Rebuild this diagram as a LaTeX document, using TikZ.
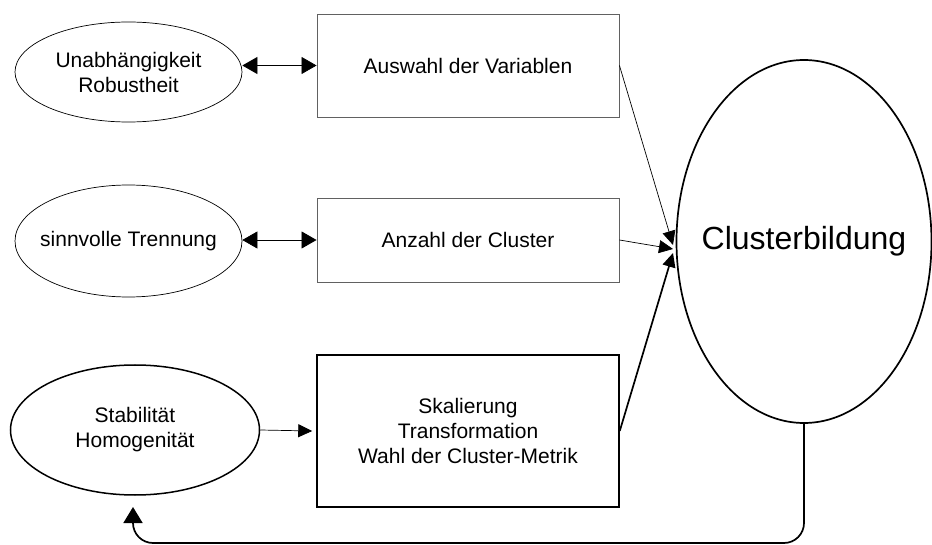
\documentclass[tikz,border=0pt]{standalone}
\usepackage{fontspec}
\setmainfont{Liberation Sans}
\usetikzlibrary{shapes.geometric,arrows.meta,calc}
\begin{document}
\begin{tikzpicture}[x=1pt,y=-1pt,
  >={Triangle[length=15pt,width=17pt]},
  smallhead/.style={-{Triangle[length=14pt,width=13pt]}},
  bighead/.style={-{Triangle[length=16pt,width=19pt]}},
  txt/.style={font=\fontsize{21}{25}\selectfont, align=center},
  % the ellipse keeps its given size; its text is set as a centred label
  oval/.style={ellipse, draw=black, line width=0.7pt, inner sep=0pt,
               label={[txt]center:#1}},
  boldoval/.style={oval=#1, line width=1.5pt},
  thinbox/.style={rectangle, draw=black!62, line width=0.9pt, inner sep=0pt, txt},
  boldbox/.style={rectangle, draw=black, line width=1.5pt, inner sep=0pt, txt},
  link/.style={line width=0.7pt},
  boldlink/.style={line width=1.7pt}]
\useasboundingbox (0,0) rectangle (932,545);

% left column: criteria
\node[oval={Unabhängigkeit\\Robustheit}, minimum width=227pt, minimum height=100pt] (e1) at (128.5,72) {};
\node[oval={sinnvolle Trennung}, minimum width=227pt, minimum height=112pt] (e2) at (128.5,241) {};
\node[boldoval={Stabilität\\Homogenität}, minimum width=249pt, minimum height=130pt] (e3) at (135,430) {};

% middle column: decisions
\node[thinbox, minimum width=302pt, minimum height=103pt] (b1) at (468,65.5) {Auswahl der Variablen};
\node[thinbox, minimum width=302pt, minimum height=84pt] (b2) at (468,240) {Anzahl der Cluster};
\node[boldbox, minimum width=302pt, minimum height=152pt] (b3) at (468,431) {Skalierung\\Transformation\\Wahl der Cluster-Metrik};

% right: result
\node[ellipse, draw=black, line width=1.7pt, inner sep=0pt, minimum width=255pt, minimum height=363pt,
      label={[font=\fontsize{32}{38}\selectfont]center:Clusterbildung}] (cb) at (804,241.5) {};

% end points on the left rim of the result
\coordinate (in1) at (673,245);
\coordinate (in2) at (673,249);
\coordinate (in3) at (673,253);
\coordinate (to3) at ($(b3.west)+(-4,0)$);
\coordinate (back) at (133,507);

% connectors
\draw[link, <->] (e1.east |- b1.east) -- (b1.west);
\draw[link, <->] (e2.east |- b2.east) -- (b2.west);
\draw[link, smallhead] (e3.east) -- (to3);

\draw[link, smallhead] (b1.east) -- (in1);
\draw[link, smallhead] (b2.east) -- (in2);
\draw[boldlink, smallhead] (b3.east) -- (in3);

\draw[boldlink, bighead, rounded corners=20pt]
  (cb.south) -- (cb.south |- 0,543) -- (back |- 0,543) -- (back);
\end{tikzpicture}
\end{document}
